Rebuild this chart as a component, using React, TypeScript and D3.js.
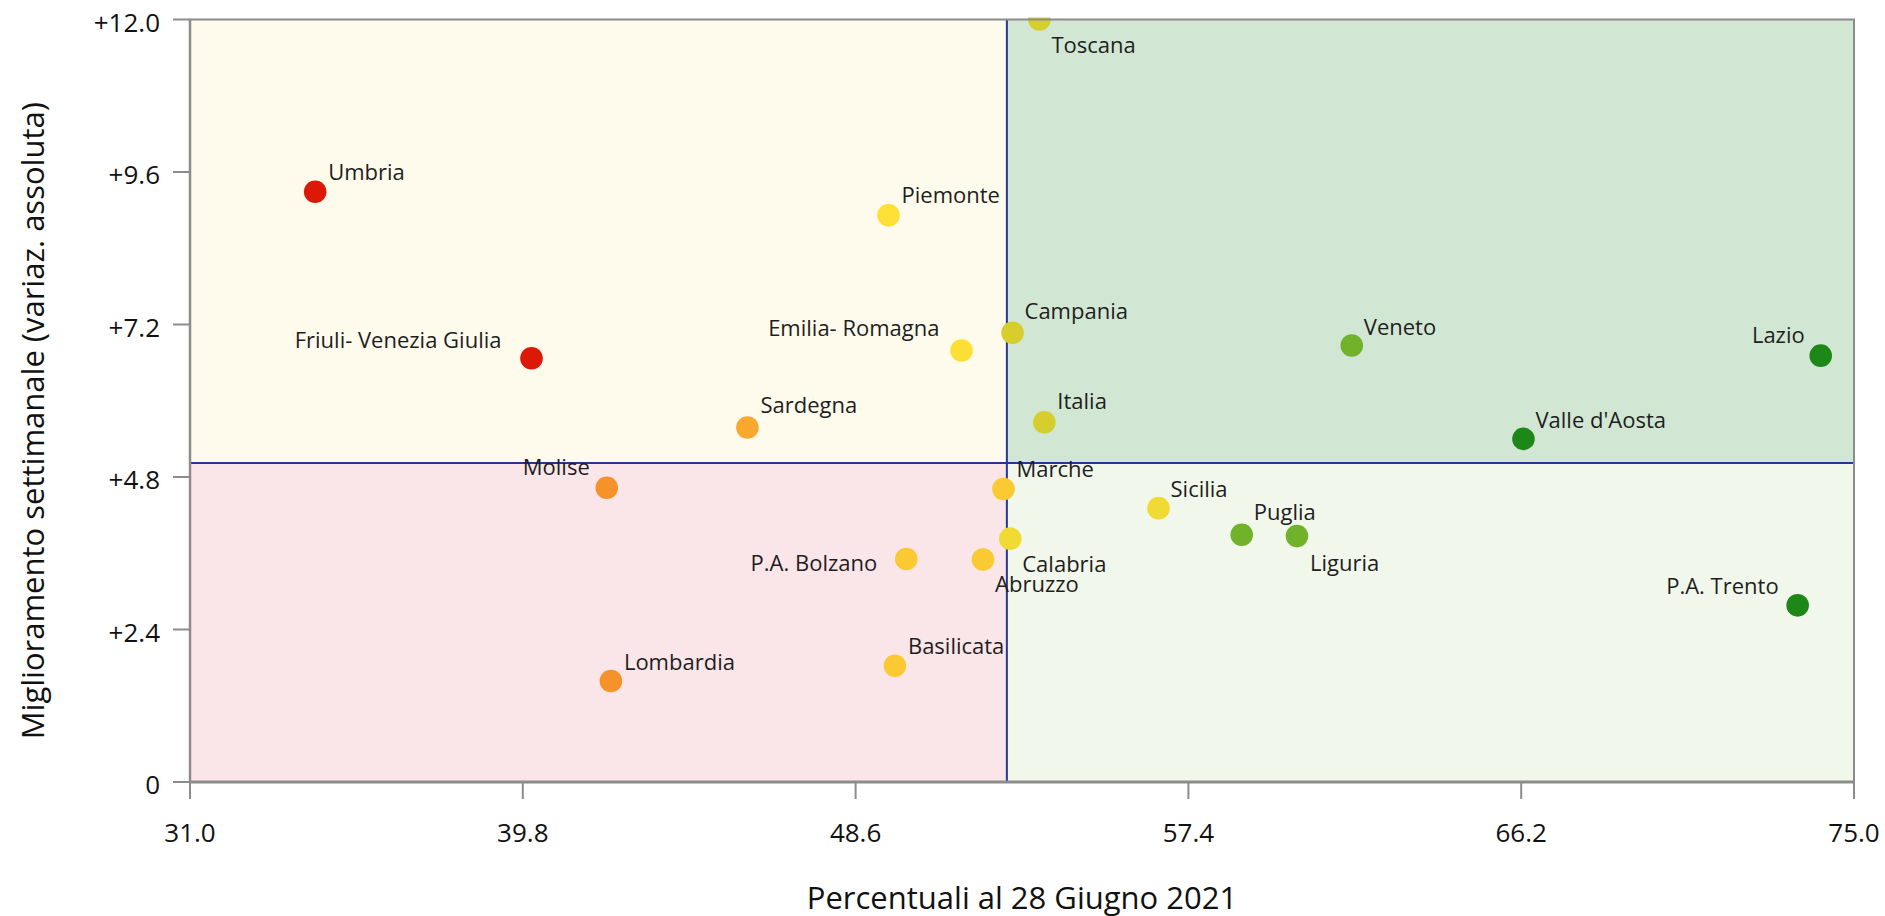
import React from "react";
import * as d3 from "d3";

const regions = ["Umbria","Friuli- Venezia Giulia","Sardegna","Piemonte","Emilia- Romagna","Campania","Toscana","Italia","Veneto","Lazio","Valle d'Aosta","Molise","Marche","Sicilia","Calabria","Abruzzo","P.A. Bolzano","Puglia","Liguria","Lombardia","Basilicata","P.A. Trento"];
const percentuali = [34.31,40.03,45.74,49.47,51.40,52.75,53.46,53.59,61.72,74.12,66.26,42.02,52.51,56.61,52.69,51.97,49.94,58.81,60.27,42.13,49.64,73.51];
const miglioramento = [9.29,6.67,5.58,8.92,6.79,7.07,12.0,5.66,6.87,6.71,5.40,4.63,4.61,4.31,3.83,3.50,3.51,3.89,3.87,1.59,1.83,2.78];
const xTicks = [31.0,39.8,48.6,57.4,66.2,75.0];
const yTicks = [0,2.4,4.8,7.2,9.6,12.0];
const xThreshold = 52.6;
const yThreshold = 5.02;
const xTitle = "Percentuali al 28 Giugno 2021";
const yTitle = "Miglioramento settimanale (variaz. assoluta)";

// styles (colour per region, label placement)
const colorOf: Record<string,string> = {
  "Umbria":"#dc1906","Friuli- Venezia Giulia":"#dc1906",
  "Molise":"#f6922a","Lombardia":"#f6922a","Sardegna":"#f8a72f",
  "Marche":"#fbc932","P.A. Bolzano":"#fbc932","Abruzzo":"#fbc932","Basilicata":"#fbc932",
  "Sicilia":"#f1da33","Calabria":"#f1da33",
  "Piemonte":"#fedf35","Emilia- Romagna":"#fedf35",
  "Campania":"#d5ce2d","Italia":"#d5ce2d","Toscana":"#d5ce2d",
  "Veneto":"#70b22a","Puglia":"#70b22a","Liguria":"#70b22a",
  "Lazio":"#1d8717","Valle d'Aosta":"#1d8717","P.A. Trento":"#1d8717",
};
const labelPos: Record<string,[number,number,string]> = {
  "Umbria":[13,-12,"start"],"Friuli- Venezia Giulia":[-30,-10,"end"],"Sardegna":[13,-14,"start"],
  "Piemonte":[13,-12,"start"],"Emilia- Romagna":[-22,-15,"end"],"Campania":[12,-14,"start"],
  "Toscana":[12,33,"start"],"Italia":[13,-13,"start"],"Veneto":[12,-10,"start"],
  "Lazio":[-16,-13,"end"],"Valle d'Aosta":[12,-11,"start"],"Molise":[-17,-13,"end"],
  "Marche":[13,-12,"start"],"Sicilia":[12,-11,"start"],"Calabria":[12,33,"start"],
  "Abruzzo":[12,32,"start"],"P.A. Bolzano":[-29,12,"end"],"Puglia":[12,-15,"start"],
  "Liguria":[13,35,"start"],"Lombardia":[13,-11,"start"],"Basilicata":[13,-12,"start"],
  "P.A. Trento":[-19,-11,"end"],
};

const W = 1885, H = 916;
const L = 190, R = 1854, T = 19.5, B = 782;
const FONT = "'Open Sans', 'Noto Sans', sans-serif";

export default function App() {
  const x = d3.scaleLinear().domain([31, 75]).range([L, R]);
  const y = d3.scaleLinear().domain([0, 12]).range([B, T]);
  const fx = d3.format(".1f");
  const fy = (v: number) => (v === 0 ? "0" : "+" + d3.format(".1f")(v));
  const xt = x(xThreshold), yt = y(yThreshold);
  const axisCol = "#8c8c8c";
  return (
    <svg width={W} height={H} style={{ position: "absolute", left: 0, top: 0, background: "#fff" }} fontFamily={FONT}>
      <defs>
        <clipPath id="plotclip"><rect x={L} y={T - 2} width={R - L} height={B - T + 2} /></clipPath>
      </defs>
      <rect x={L} y={T} width={xt - L} height={yt - T} fill="#fffbec" />
      <rect x={xt} y={T} width={R - xt} height={yt - T} fill="#d2e7d3" />
      <rect x={L} y={yt} width={xt - L} height={B - yt} fill="#fae6e8" />
      <rect x={xt} y={yt} width={R - xt} height={B - yt} fill="#f1f7ea" />
      <line x1={xt} x2={xt} y1={T} y2={B} stroke="#283593" strokeWidth={2} />
      <line x1={L} x2={R} y1={yt} y2={yt} stroke="#283593" strokeWidth={2} />
      <g clipPath="url(#plotclip)">
        {regions.map((r, i) => (
          <circle key={r} cx={x(percentuali[i])} cy={y(miglioramento[i])} r={11.3} fill={colorOf[r]} />
        ))}
      </g>
      {regions.map((r, i) => {
        const [dx, dy, anchor] = labelPos[r];
        return (
          <text key={r + "l"} x={x(percentuali[i]) + dx} y={y(miglioramento[i]) + dy} textAnchor={anchor as any}
            fontSize={22} fill="#1e1e1e">{r}</text>
        );
      })}
      {/* frame */}
      <rect x={L} y={T} width={R - L} height={B - T} fill="none" stroke={axisCol} strokeWidth={2} />
      <line x1={L} x2={R} y1={B} y2={B} stroke={axisCol} strokeWidth={3} />
      <line x1={L} x2={L} y1={T} y2={B} stroke={axisCol} strokeWidth={2.5} />
      {xTicks.map((t) => (
        <g key={"x" + t}>
          <line x1={x(t)} x2={x(t)} y1={B} y2={B + 17} stroke={axisCol} strokeWidth={2} />
          <text x={x(t)} y={842} textAnchor="middle" fontSize={26} fill="#111">{fx(t)}</text>
        </g>
      ))}
      {yTicks.map((t) => (
        <g key={"y" + t}>
          <line x1={L - 17} x2={L} y1={y(t)} y2={y(t)} stroke={axisCol} strokeWidth={2} />
          <text x={160} y={y(t) + 12} textAnchor="end" fontSize={26} fill="#111">{fy(t)}</text>
        </g>
      ))}
      <text x={(L + R) / 2} y={909} textAnchor="middle" fontSize={31} fill="#111">{xTitle}</text>
      <text transform={`translate(44, ${(T + B) / 2 + 20}) rotate(-90)`} textAnchor="middle" fontSize={31} fill="#111">{yTitle}</text>
    </svg>
  );
}
